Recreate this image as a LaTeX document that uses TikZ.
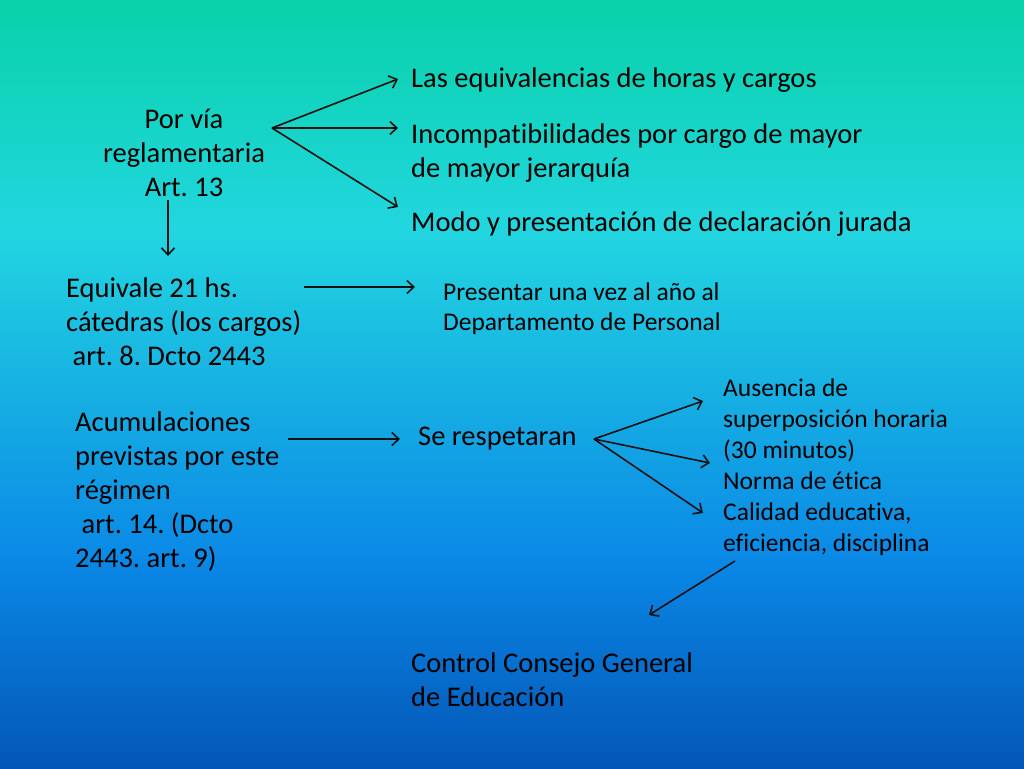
\documentclass[tikz,border=0pt]{standalone}
\usepackage{fontspec}
\setmainfont[Ligatures=NoCommon]{Carlito}
\usetikzlibrary{arrows.meta}
\definecolor{bgA}{HTML}{08D2A8}
\definecolor{bgB}{HTML}{22D6E0}
\definecolor{bgC}{HTML}{0A88E6}
\definecolor{bgD}{HTML}{0456B6}
\definecolor{ink}{HTML}{111111}
\tikzset{
  big/.style={anchor=west,inner sep=0pt,align=left,font=\fontsize{28.5}{34}\selectfont,text=black},
  bigc/.style={anchor=center,inner sep=0pt,align=center,font=\fontsize{28.5}{34}\selectfont,text=black},
  small/.style={anchor=west,inner sep=0pt,align=left,font=\fontsize{25.5}{30}\selectfont,text=black},
  smallb/.style={anchor=west,inner sep=0pt,align=left,font=\fontsize{25.5}{31}\selectfont,text=black},
  arr/.style={draw=ink,line width=1.6pt,-{Straight Barb[length=7pt,width=13pt,line width=1.6pt]}}
}
\frenchspacing
\begin{document}
\begin{tikzpicture}[x=1pt,y=-1pt]
\useasboundingbox (0,0) rectangle (1024,768);
\shade[top color=bgA,bottom color=bgB] (0,-1) rectangle (1024,231);
\shade[top color=bgB,bottom color=bgC] (0,230) rectangle (1024,561);
\shade[top color=bgC,bottom color=bgD] (0,560) rectangle (1024,769);

\node[bigc] (via) at (184,153) {Por vía\\reglamentaria\\Art. 13};
\node[big] (equiv) at (411,80) {Las equivalencias de horas y cargos};
\node[big] (incomp) at (411,153) {Incompatibilidades por cargo de mayor\\de mayor jerarquía};
\node[big] (modo) at (411,224) {Modo y presentación de declaración jurada};
\node[big] (eq21) at (66,322) {Equivale 21 hs.\\cátedras (los cargos)\\\ art. 8. Dcto 2443};
\node[small] (pres) at (443,309) {Presentar una vez al año al\\Departamento de Personal};
\node[big] (acum) at (75,492) {Acumulaciones\\previstas por este\\régimen\\\ art. 14. (Dcto\\2443. art. 9)};
\node[big] (resp) at (418,439) {Se respetaran};
\node[smallb] (aus) at (723,467) {Ausencia de\\superposición horaria\\(30 minutos)\\Norma de ética\\Calidad educativa,\\eficiencia, disciplina};
\node[big] (ctrl) at (411,680) {Control Consejo General\\de Educación};

\coordinate (f1) at (272,128);
\coordinate (e1) at (398,79);
\coordinate (e2) at (398,128);
\coordinate (e3) at (398,207);
\coordinate (d1) at (168,200);
\coordinate (d2) at (168,256);
\coordinate (g1) at (304,287);
\coordinate (g2) at (415,287);
\coordinate (h1) at (288,439);
\coordinate (h2) at (400,439);
\coordinate (k0) at (594,439);
\coordinate (k1) at (703,401);
\coordinate (k2) at (710,463);
\coordinate (k3) at (703,513);
\coordinate (m1) at (735,561);
\coordinate (m2) at (649,615);

\draw[arr] (f1) -- (e1);
\draw[arr] (f1) -- (e2);
\draw[arr] (f1) -- (e3);
\draw[arr] (d1) -- (d2);
\draw[arr] (g1) -- (g2);
\draw[arr] (h1) -- (h2);
\draw[arr] (k0) -- (k1);
\draw[arr] (k0) -- (k2);
\draw[arr] (k0) -- (k3);
\draw[arr] (m1) -- (m2);
\end{tikzpicture}
\end{document}
